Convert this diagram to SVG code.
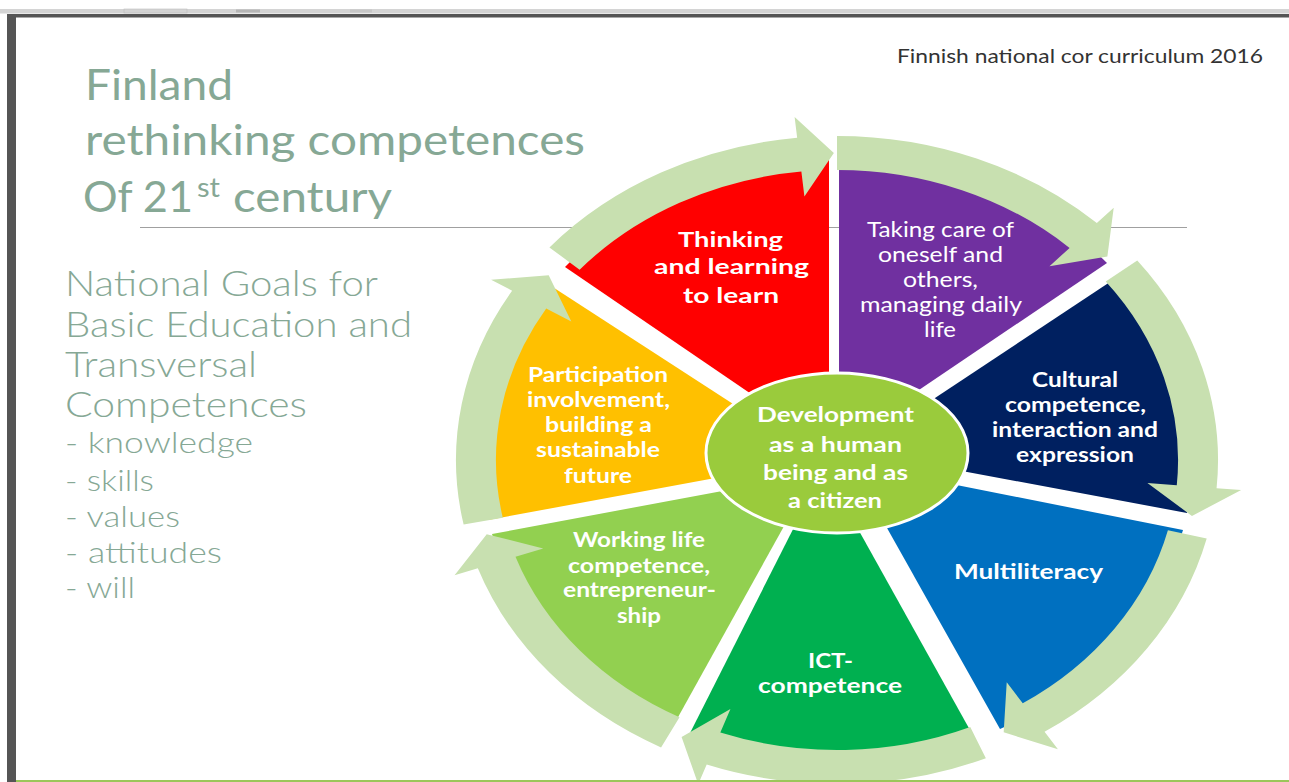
<svg xmlns="http://www.w3.org/2000/svg" width="1289" height="782" viewBox="0 0 1289 782">
<style>
.ttl{font-family:Lato,"Open Sans","Liberation Sans",sans-serif;font-size:42px;fill:#86A895}
.bd{font-family:Lato,"Open Sans","Liberation Sans",sans-serif;font-weight:300;font-size:35px;fill:#86A895}
.bl{font-family:Lato,"Open Sans","Liberation Sans",sans-serif;font-weight:300;font-size:30px;fill:#86A895}
.src{font-family:Lato,"Open Sans","Liberation Sans",sans-serif;font-size:20px;fill:#333333}
.lb{font-family:Lato,"Open Sans","Liberation Sans",sans-serif;font-weight:700;font-size:21.5px;fill:#FFFFFF}
.lr{font-family:Lato,"Open Sans","Liberation Sans",sans-serif;font-weight:400;font-size:20.5px;fill:#FFFFFF}
.band{fill:#C8E0B0}
</style>
<defs>
<path id="band" d="M 324 0 A 324 324 0 0 1 236.97 220.96 L 252.3 235.3 L 203.4 229.9 L 193.8 180.7 L 212.1 197.8 A 290 290 0 0 0 290 0 Z"/>
</defs>
<rect x="0" y="0" width="1289" height="782" fill="#FFFFFF"/>
<g id="chrome">
<rect x="0" y="9" width="1289" height="4.5" fill="#D4D4D4"/>
<rect x="7" y="14" width="1282" height="3.5" fill="#555555"/>
<rect x="7" y="14" width="9" height="768" fill="#555555"/>
<rect x="124" y="9" width="63" height="4" fill="none" stroke="#BDBDBD" stroke-width="0.6"/>
<rect x="236" y="9.5" width="24" height="3" fill="#B5B5B5"/>
<rect x="350" y="9.5" width="22" height="3" fill="#C6C6C6"/>
</g>
<g id="title">
<text class="ttl" x="85" y="100" textLength="148" lengthAdjust="spacingAndGlyphs">Finland</text>
<text class="ttl" x="85" y="155" textLength="500" lengthAdjust="spacingAndGlyphs">rethinking competences</text>
<text class="ttl" x="83" y="212" textLength="110" lengthAdjust="spacingAndGlyphs">Of 21</text>
<text class="ttl" x="197" y="197" style="font-size:26px" textLength="23" lengthAdjust="spacingAndGlyphs">st</text>
<text class="ttl" x="233" y="212" textLength="159" lengthAdjust="spacingAndGlyphs">century</text>
</g>
<g id="source">
<text class="src" x="897" y="63" textLength="366" lengthAdjust="spacingAndGlyphs">Finnish national cor curriculum 2016</text>
</g>
<line x1="140" y1="227.5" x2="1187" y2="227.5" stroke="#A0A0A0" stroke-width="1"/>
<g id="goals">
<text class="bd" x="65" y="296" textLength="313" lengthAdjust="spacingAndGlyphs">National Goals for</text>
<text class="bd" x="65" y="337" textLength="347" lengthAdjust="spacingAndGlyphs">Basic Education and</text>
<text class="bd" x="65" y="377" textLength="192" lengthAdjust="spacingAndGlyphs">Transversal</text>
<text class="bd" x="65" y="417" textLength="242" lengthAdjust="spacingAndGlyphs">Competences</text>
<text class="bl" x="65" y="453" textLength="188" lengthAdjust="spacingAndGlyphs">- knowledge</text>
<text class="bl" x="65" y="491" textLength="89" lengthAdjust="spacingAndGlyphs">- skills</text>
<text class="bl" x="65" y="527" textLength="115" lengthAdjust="spacingAndGlyphs">- values</text>
<text class="bl" x="65" y="563" textLength="157" lengthAdjust="spacingAndGlyphs">- attitudes</text>
<text class="bl" x="65" y="598" textLength="70" lengthAdjust="spacingAndGlyphs">- will</text>
</g>
<g id="wedge-thinking">
<path d="M829,447 L565,267 A356,303 0 0 1 829,157 Z" fill="#FF0000"/>
<text class="lb" x="678" y="247" textLength="105" lengthAdjust="spacingAndGlyphs">Thinking</text>
<text class="lb" x="654" y="274" textLength="155" lengthAdjust="spacingAndGlyphs">and learning</text>
<text class="lb" x="683" y="303" textLength="96" lengthAdjust="spacingAndGlyphs">to learn</text>
</g>
<g id="wedge-care">
<path d="M839,444 L839,157 A356,303 0 0 1 1107,263 Z" fill="#7030A0"/>
<text class="lr" x="867" y="237" textLength="147" lengthAdjust="spacingAndGlyphs">Taking care of</text>
<text class="lr" x="878" y="262" textLength="125" lengthAdjust="spacingAndGlyphs">oneself and</text>
<text class="lr" x="903" y="287" textLength="75" lengthAdjust="spacingAndGlyphs">others,</text>
<text class="lr" x="860" y="312" textLength="162" lengthAdjust="spacingAndGlyphs">managing daily</text>
<text class="lr" x="924" y="337" textLength="32" lengthAdjust="spacingAndGlyphs">life</text>
</g>
<g id="wedge-cultural">
<path d="M855,451 L1119,276 A356,303 0 0 1 1187,513 Z" fill="#002060"/>
<text class="lb" x="1032" y="387" textLength="86" lengthAdjust="spacingAndGlyphs">Cultural</text>
<text class="lb" x="1005" y="412" textLength="141" lengthAdjust="spacingAndGlyphs">competence,</text>
<text class="lb" x="992" y="437" textLength="166" lengthAdjust="spacingAndGlyphs">interaction and</text>
<text class="lb" x="1016" y="462" textLength="118" lengthAdjust="spacingAndGlyphs">expression</text>
</g>
<g id="wedge-multiliteracy">
<path d="M851,464 L1183,530 A356,303 0 0 1 1000,729 Z" fill="#0070C0"/>
<text class="lb" x="954" y="579" textLength="149" lengthAdjust="spacingAndGlyphs">Multiliteracy</text>
</g>
<g id="wedge-ict">
<path d="M824,468 L975,739 A356,303 0 0 1 689,735 Z" fill="#00B050"/>
<text class="lb" x="808" y="668" textLength="45" lengthAdjust="spacingAndGlyphs">ICT-</text>
<text class="lb" x="758" y="693" textLength="144" lengthAdjust="spacingAndGlyphs">competence</text>
</g>
<g id="wedge-working">
<path d="M813,474 L672,728 A356,303 0 0 1 492,534 Z" fill="#92D050"/>
<text class="lb" x="573" y="547" textLength="132" lengthAdjust="spacingAndGlyphs">Working life</text>
<text class="lb" x="568" y="573" textLength="142" lengthAdjust="spacingAndGlyphs">competence,</text>
<text class="lb" x="563" y="597" textLength="153" lengthAdjust="spacingAndGlyphs">entrepreneur-</text>
<text class="lb" x="617" y="623" textLength="44" lengthAdjust="spacingAndGlyphs">ship</text>
</g>
<g id="wedge-participation">
<path d="M818,459 L488,520 A356,303 0 0 1 548,284 Z" fill="#FFC000"/>
<text class="lb" x="528" y="382" textLength="140" lengthAdjust="spacingAndGlyphs">Participation</text>
<text class="lb" x="527" y="407" textLength="143" lengthAdjust="spacingAndGlyphs">involvement,</text>
<text class="lb" x="545" y="432" textLength="107" lengthAdjust="spacingAndGlyphs">building a</text>
<text class="lb" x="536" y="457" textLength="124" lengthAdjust="spacingAndGlyphs">sustainable</text>
<text class="lb" x="564" y="483" textLength="68" lengthAdjust="spacingAndGlyphs">future</text>
</g>
<g id="center">
<ellipse cx="837" cy="453" rx="131" ry="80" fill="#9ACB3C" stroke="#FFFFFF" stroke-width="3"/>
<text class="lb" x="757" y="422" textLength="157" lengthAdjust="spacingAndGlyphs">Development</text>
<text class="lb" x="769" y="452" textLength="133" lengthAdjust="spacingAndGlyphs">as a human</text>
<text class="lb" x="763" y="480" textLength="145" lengthAdjust="spacingAndGlyphs">being and as</text>
<text class="lb" x="788" y="508" textLength="94" lengthAdjust="spacingAndGlyphs">a citizen</text>
</g>
<g id="connectors">
<use href="#band" class="band" transform="translate(837 460) scale(1.176 1) rotate(-139)"/>
<use href="#band" class="band" transform="translate(837 460) scale(1.176 1) rotate(-90)"/>
<use href="#band" class="band" transform="translate(837 460) scale(1.176 1) rotate(-38)"/>
<use href="#band" class="band" transform="translate(837 460) scale(1.176 1) rotate(14)"/>
<use href="#band" class="band" transform="translate(837 460) scale(1.176 1) rotate(67)"/>
<use href="#band" class="band" transform="translate(837 460) scale(1.176 1) rotate(117.5)"/>
<use href="#band" class="band" transform="translate(837 460) scale(1.176 1) rotate(168.5)"/>
</g>
<rect x="16" y="780" width="1273" height="2" fill="#9BC65A"/>
</svg>
